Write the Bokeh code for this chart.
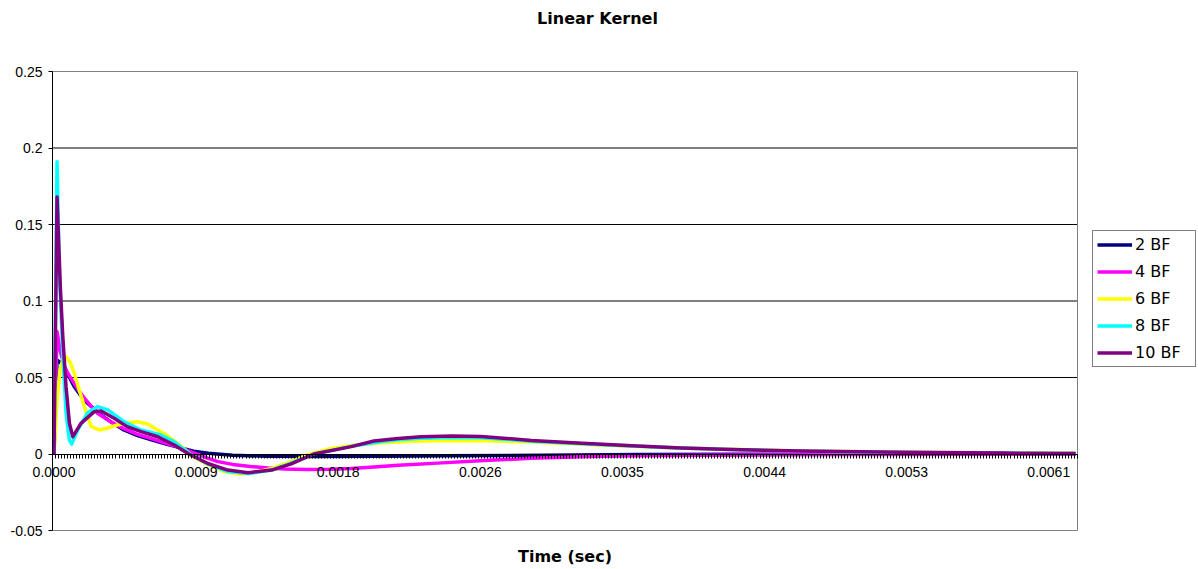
import numpy as np
from bokeh.plotting import figure
from bokeh.models import Range1d, FixedTicker, Legend, LegendItem, ColumnDataSource, Label
from bokeh.embed import file_html
from bokeh.resources import INLINE

TITLE = "Linear Kernel"
X_TITLE = "Time (sec)"

# category axis: 339 samples, a label every 47 samples (0.000875 s)
LABEL_STEP = 0.000875
SAMPLES_PER_LABEL = 47
N_SAMPLES = 339
x_labels = ["0.0000", "0.0009", "0.0018", "0.0026", "0.0035", "0.0044", "0.0053", "0.0061"]

y_ticks = [-0.05, 0.0, 0.05, 0.1, 0.15, 0.2, 0.25]
y_labels = ["-0.05", "0", "0.05", "0.1", "0.15", "0.2", "0.25"]

series_names = ["2 BF", "4 BF", "6 BF", "8 BF", "10 BF"]
series_colors = ["#000080", "#FF00FF", "#FFFF00", "#00FFFF", "#800080"]

t_2bf = [0, 1.86e-5, 3.7e-5, 6.4e-5, 9.5e-5, 1.25e-4, 1.55e-4, 1.87e-4, 2.3e-4, 2.7e-4,
         3.5e-4, 4.3e-4, 5.1e-4, 6.0e-4, 6.9e-4, 7.8e-4, 8.6e-4, 9.5e-4, 1.1e-3, 1.3e-3,
         1.6e-3, 2.0e-3, 2.4e-3, 2.8e-3, 3.2e-3, 3.6e-3, 4.2e-3, 5.0e-3, 6.29e-3]
v_2bf = [0, 0.0614, 0.0600, 0.0570, 0.0500, 0.0440, 0.0395, 0.0350, 0.0310, 0.0270,
         0.0210, 0.0157, 0.0122, 0.0092, 0.0065, 0.0040, 0.0018, 0.0005, -0.0008, -0.0014,
         -0.0016, -0.0015, -0.0012, -0.0009, -0.0006, -0.0004, -0.0002, -0.0001, 0.0]

t_4bf = [0, 1.86e-5, 3.7e-5, 6.4e-5, 9.5e-5, 1.25e-4, 1.55e-4, 1.87e-4, 2.3e-4, 2.7e-4,
         3.5e-4, 4.3e-4, 5.1e-4, 6.0e-4, 6.9e-4, 7.8e-4, 8.6e-4, 9.5e-4, 1.01e-3, 1.1e-3,
         1.21e-3, 1.32e-3, 1.42e-3, 1.56e-3, 1.71e-3, 1.83e-3, 1.97e-3, 2.12e-3, 2.39e-3, 2.65e-3,
         2.94e-3, 3.3e-3, 3.6e-3, 4.0e-3, 4.6e-3, 5.2e-3, 6.29e-3]
v_4bf = [0, 0.0800, 0.0680, 0.0570, 0.0510, 0.0460, 0.0410, 0.0365, 0.0310, 0.0265,
         0.0210, 0.0165, 0.0130, 0.0100, 0.0070, 0.0040, 0.0008, -0.0028, -0.0050, -0.0068,
         -0.0082, -0.0092, -0.0098, -0.0101, -0.0100, -0.0095, -0.0085, -0.0073, -0.0058, -0.0043,
         -0.0028, -0.0017, -0.0012, -0.0008, -0.0005, -0.0003, -0.0001]

t_6bf = [0, 1.86e-5, 3.7e-5, 5.5e-5, 7.4e-5, 1.0e-4, 1.25e-4, 1.55e-4, 1.87e-4, 2.28e-4,
         2.8e-4, 3.3e-4, 3.9e-4, 4.5e-4, 5.16e-4, 5.8e-4, 6.39e-4, 6.9e-4, 7.41e-4, 7.9e-4,
         8.44e-4, 9.47e-4, 1.05e-3, 1.13e-3, 1.2e-3, 1.34e-3, 1.46e-3, 1.56e-3, 1.7e-3, 1.83e-3,
         2.0e-3, 2.2e-3, 2.4e-3, 2.65e-3, 2.94e-3, 3.25e-3, 3.56e-3, 3.9e-3, 4.2e-3, 4.6e-3,
         5.2e-3, 5.8e-3, 6.29e-3]
v_6bf = [0, 0.0350, 0.0550, 0.0620, 0.0636, 0.0600, 0.0527, 0.0420, 0.0310, 0.0180,
         0.0157, 0.0170, 0.0190, 0.0205, 0.0211, 0.0195, 0.0157, 0.0125, 0.0085, 0.0045,
         -0.0010, -0.0070, -0.0115, -0.0130, -0.0128, -0.0095, -0.0050, -0.0005, 0.0035, 0.0055,
         0.0072, 0.0083, 0.0088, 0.0087, 0.0078, 0.0063, 0.0050, 0.0038, 0.0030, 0.0020,
         0.0012, 0.0007, 0.0005]

t_8bf = [0, 1.86e-5, 3.27e-5, 5.36e-5, 7.39e-5, 9.43e-5, 1.09e-4, 1.46e-4, 2.08e-4, 2.69e-4,
         3.31e-4, 4.33e-4, 5.36e-4, 6.59e-4, 7.41e-4, 8.44e-4, 9.47e-4, 1.07e-3, 1.195e-3, 1.34e-3,
         1.46e-3, 1.6e-3, 1.83e-3, 2.0e-3, 2.12e-3, 2.26e-3, 2.45e-3, 2.63e-3, 2.94e-3, 3.25e-3,
         3.56e-3, 3.86e-3, 4.17e-3, 4.6e-3, 5.22e-3, 5.84e-3, 6.29e-3]
v_8bf = [0, 0.1910, 0.1200, 0.0660, 0.0270, 0.0092, 0.0065, 0.0157, 0.0270, 0.0310,
         0.0288, 0.0210, 0.0157, 0.0124, 0.0080, -0.0005, -0.0065, -0.0115, -0.0128, -0.0105,
         -0.0060, 0.0, 0.0050, 0.0078, 0.0093, 0.0103, 0.0108, 0.0106, 0.0084, 0.0067,
         0.0052, 0.0039, 0.0029, 0.0018, 0.0010, 0.0006, 0.0004]

t_10bf = [0, 1.86e-5, 3.9e-5, 5.4e-5, 7.4e-5, 9.5e-5, 1.16e-4, 1.66e-4, 2.48e-4, 2.9e-4,
          3.7e-4, 4.5e-4, 5.36e-4, 6.39e-4, 7.4e-4, 8.3e-4, 9.47e-4, 1.07e-3, 1.195e-3, 1.34e-3,
          1.46e-3, 1.6e-3, 1.83e-3, 1.97e-3, 2.12e-3, 2.26e-3, 2.45e-3, 2.63e-3, 2.94e-3, 3.25e-3,
          3.56e-3, 3.86e-3, 4.17e-3, 4.6e-3, 5.22e-3, 5.84e-3, 6.29e-3]
v_10bf = [0, 0.1680, 0.1090, 0.0770, 0.0440, 0.0200, 0.0113, 0.0200, 0.0277, 0.0281,
          0.0233, 0.0179, 0.0146, 0.0113, 0.0059, 0.0, -0.0062, -0.0105, -0.0122, -0.0105,
          -0.0065, 0.0, 0.0048, 0.0085, 0.0102, 0.0113, 0.0118, 0.0115, 0.0088, 0.0070,
          0.0054, 0.0040, 0.0030, 0.0019, 0.0011, 0.0006, 0.0004]

series_t = [t_2bf, t_4bf, t_6bf, t_8bf, t_10bf]
series_v = [v_2bf, v_4bf, v_6bf, v_8bf, v_10bf]

# ---------------------------------------------------------------------------
# The frame covers the whole canvas; the plot area sits inside it with these
# margins, so that titles, legend and tick labels are drawn within the frame.
W, H = 1198, 569
PA_LEFT, PA_RIGHT, PA_TOP, PA_BOTTOM = 52, 1077, 71, 530

dt = LABEL_STEP / SAMPLES_PER_LABEL
x_lo, x_hi = -dt / 2, (N_SAMPLES - 0.5) * dt
y_lo, y_hi = y_ticks[0], y_ticks[-1]

ppx = (PA_RIGHT - PA_LEFT) / (x_hi - x_lo)
ppy = (PA_BOTTOM - PA_TOP) / (y_hi - y_lo)
x_range = Range1d(x_lo - PA_LEFT / ppx, x_hi + (W - PA_RIGHT) / ppx)
y_range = Range1d(y_lo - (H - PA_BOTTOM) / ppy, y_hi + PA_TOP / ppy)

p = figure(
    width=W, height=H, x_range=x_range, y_range=y_range,
    output_backend="svg", toolbar_location=None, title=None,
    min_border=0, min_border_left=0, min_border_right=0,
    min_border_top=0, min_border_bottom=0,
    background_fill_color="white", border_fill_color="white",
)
p.outline_line_color = None
p.xgrid.visible = False
p.ygrid.visible = False

ARIAL = "Liberation Sans"

# plot-area gridlines and border
grid_y = [t for t in y_ticks if y_lo < t < y_hi and t != 0]
p.segment(x0=[x_lo] * len(grid_y), y0=grid_y, x1=[x_hi] * len(grid_y), y1=grid_y,
          line_color="black", line_width=1)
p.quad(left=[x_lo], right=[x_hi], bottom=[y_lo], top=[y_hi],
       fill_color=None, line_color="#808080", line_width=1)

# value axis along the left edge of the plot area
ya = p.yaxis[0]
ya.fixed_location = x_lo
ya.bounds = (y_lo, y_hi)
ya.ticker = FixedTicker(ticks=y_ticks)
ya.major_label_overrides = {t: s for t, s in zip(y_ticks, y_labels)}
ya.axis_line_color = "black"
ya.major_tick_line_color = "black"
ya.major_tick_out = 4
ya.major_tick_in = 0
ya.minor_tick_line_color = None
ya.major_label_standoff = 6
ya.major_label_text_font = ARIAL
ya.major_label_text_font_size = "14px"
ya.major_label_text_color = "black"

# category axis crossing at y = 0, a tick mark at every sample boundary
label_x = [k * SAMPLES_PER_LABEL * dt for k in range(len(x_labels))]
tick_x = list(np.arange(N_SAMPLES + 1) * dt - dt / 2)
xa = p.xaxis[0]
xa.fixed_location = 0
xa.bounds = (x_lo, x_hi)
xa.ticker = FixedTicker(ticks=label_x, minor_ticks=tick_x)
xa.major_label_overrides = {t: s for t, s in zip(label_x, x_labels)}
xa.axis_line_color = "black"
xa.major_tick_line_color = None
xa.major_tick_out = 0
xa.major_tick_in = 0
xa.minor_tick_line_color = "black"
xa.minor_tick_out = 4
xa.minor_tick_in = 0
xa.major_label_standoff = 9
xa.major_label_text_font = ARIAL
xa.major_label_text_font_size = "14px"
xa.major_label_text_color = "black"

# series
items = []
for name, color, t, v in zip(series_names, series_colors, series_t, series_v):
    src = ColumnDataSource(dict(t=t, v=v))
    r = p.line("t", "v", source=src, line_color=color, line_width=3.5, line_join="round")
    items.append(LegendItem(label=name, renderers=[r]))

legend = Legend(items=items, location=(1092, H - 367), orientation="vertical",
                glyph_width=35, glyph_height=19, label_height=19, spacing=8,
                padding=4, margin=0, label_standoff=3, label_width=56,
                label_text_font="DejaVu Sans", label_text_font_size="16px",
                label_text_color="black", border_line_color="black", border_line_width=1,
                background_fill_color="white", background_fill_alpha=1.0)
p.add_layout(legend)

# chart title and time-axis title
p.add_layout(Label(x=597, y=H - 18, x_units="screen", y_units="screen",
                   text=TITLE, text_align="center", text_baseline="middle",
                   text_font="DejaVu Sans", text_font_style="bold", text_font_size="16px",
                   text_color="black"))
p.add_layout(Label(x=(PA_LEFT + PA_RIGHT) / 2, y=H - 556, x_units="screen", y_units="screen",
                   text=X_TITLE, text_align="center", text_baseline="middle",
                   text_font="DejaVu Sans", text_font_style="bold", text_font_size="16px",
                   text_color="black"))

open("out.html", "w").write(file_html(p, INLINE))
